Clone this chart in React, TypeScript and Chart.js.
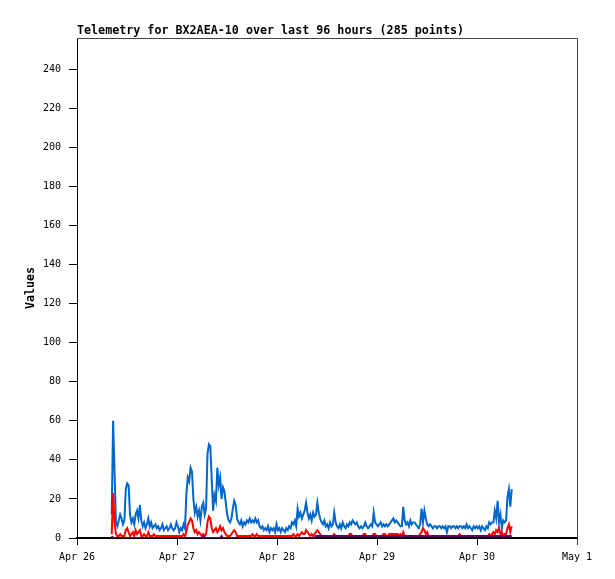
import React, { useEffect, useRef } from "react";
import { Chart, registerables } from "chart.js";

Chart.register(...registerables);

const TITLE = "Telemetry for BX2AEA-10 over last 96 hours (285 points)";
const Y_LABEL = "Values";
const X_TICK_HOURS = [0, 24, 48, 72, 96, 120];
const X_TICK_LABELS = ["Apr 26", "Apr 27", "Apr 28", "Apr 29", "Apr 30", "May 1"];
const Y_TICKS = [0, 20, 40, 60, 80, 100, 120, 140, 160, 180, 200, 220, 240];

// samples every ~20 min, first one at ~08:20 on Apr 26
const FIRST_SAMPLE_HOUR = 8.33;
const SAMPLE_INTERVAL = 96 / 284;

const BLUE = [
  12, 60, 34, 8, 6, 9, 12, 10, 7, 9,
  25, 28, 27, 12, 8, 10, 7, 12, 14, 10,
  17, 9, 6, 8, 5, 7, 10, 6, 8, 5,
  6, 7, 5, 6, 4, 5, 7, 4, 5, 6,
  4, 5, 7, 5, 4, 5, 8, 6, 3, 5,
  4, 7, 5, 22, 31, 29, 36, 34, 20, 13,
  16, 11, 14, 9, 16, 18, 12, 15, 43, 48,
  47, 30, 14, 22, 19, 36, 27, 31, 20, 26,
  24, 18, 12, 9, 8, 10, 15, 19, 17, 10,
  8, 7, 9, 6, 8, 7, 9, 8, 10, 8,
  9, 8, 10, 8, 9, 6, 5, 6, 4, 5,
  4, 6, 3, 5, 4, 5, 3, 7, 4, 5,
  3, 5, 4, 3, 5, 4, 6, 5, 8, 7,
  9, 6, 15, 11, 13, 10, 12, 14, 18, 13,
  10, 12, 9, 13, 11, 12, 18, 13, 10, 8,
  7, 9, 6, 7, 5, 8, 6, 7, 13, 8,
  6, 5, 7, 5, 8, 6, 5, 7, 6, 8,
  7, 9, 8, 7, 8, 6, 5, 6, 5, 6,
  8, 6, 5, 6, 7, 6, 13, 8, 7, 6,
  7, 8, 6, 7, 6, 7, 6, 7, 8, 9,
  10, 8, 9, 8, 7, 6, 6, 16, 9, 7,
  8, 6, 9, 7, 8, 8, 7, 6, 5, 7,
  15, 8, 14, 10, 7, 6, 7, 6, 5, 6,
  6, 5, 6, 6, 5, 6, 5, 6, 3, 6,
  6, 5, 6, 6, 5, 6, 5, 6, 6, 5,
  6, 5, 7, 5, 6, 5, 4, 6, 5, 6,
  5, 6, 4, 6, 5, 4, 6, 5, 8, 7,
  8, 8, 14, 10, 19, 8, 12, 5, 9, 8,
  9, 21, 25, 16, 25,
];

const RED = [
  2, 23, 8, 2, 1, 1, 2, 1, 1, 1,
  4, 5, 3, 1, 2, 3, 1, 4, 2, 3,
  4, 1, 1, 2, 1, 1, 3, 1, 1, 1,
  2, 1, 1, 1, 1, 1, 1, 1, 1, 1,
  1, 1, 1, 1, 1, 1, 1, 1, 1, 1,
  1, 2, 1, 3, 7, 8, 10, 9, 5, 3,
  4, 2, 3, 2, 1, 2, 1, 2, 8, 11,
  10, 5, 3, 4, 5, 3, 4, 6, 4, 5,
  3, 2, 1, 1, 1, 2, 3, 4, 3, 1,
  1, 1, 1, 1, 1, 1, 1, 1, 1, 1,
  2, 1, 1, 2, 1, 1, 1, 1, 1, 1,
  1, 1, 1, 1, 1, 1, 1, 1, 1, 1,
  1, 1, 1, 1, 1, 1, 1, 1, 1, 2,
  1, 1, 2, 1, 2, 3, 2, 2, 4, 3,
  2, 1, 2, 1, 2, 3, 4, 3, 2, 1,
  1, 1, 1, 1, 1, 1, 1, 1, 2, 1,
  1, 1, 1, 1, 1, 1, 1, 1, 1, 2,
  2, 1, 1, 1, 1, 1, 1, 1, 1, 2,
  2, 1, 1, 1, 1, 1, 2, 2, 1, 1,
  1, 1, 1, 2, 2, 1, 1, 2, 2, 2,
  2, 2, 2, 2, 1, 2, 1, 3, 1, 1,
  1, 1, 1, 1, 1, 1, 1, 1, 1, 2,
  3, 5, 4, 2, 3, 1, 1, 1, 1, 1,
  1, 1, 1, 1, 1, 1, 1, 1, 1, 1,
  1, 1, 1, 1, 1, 1, 1, 2, 1, 1,
  1, 1, 1, 1, 1, 1, 1, 1, 1, 1,
  1, 1, 1, 1, 1, 1, 1, 1, 2, 1,
  2, 3, 2, 4, 3, 5, 2, 3, 1, 2,
  2, 5, 7, 3, 6,
];

const PURPLE = [
  1, 0, 0, 0, 0, 0, 0, 0, 0, 0,
  0, 0, 0, 0, 0, 0, 0, 0, 0, 0,
  0, 0, 0, 0, 0, 0, 0, 0, 0, 0,
  0, 0, 0, 0, 0, 0, 0, 0, 0, 0,
  0, 0, 0, 0, 0, 0, 0, 0, 0, 0,
  0, 0, 0, 0, 0, 0, 0, 0, 0, 0,
  0, 0, 0, 0, 0, 1, 0, 0, 0, 0,
  0, 0, 0, 0, 0, 0, 0, 0, 1, 0,
  0, 0, 0, 0, 0, 0, 0, 0, 0, 0,
  0, 0, 0, 0, 0, 0, 0, 0, 0, 0,
  0, 0, 0, 0, 0, 0, 0, 0, 0, 0,
  0, 0, 0, 0, 0, 0, 0, 0, 0, 0,
  0, 0, 0, 0, 0, 0, 0, 0, 0, 0,
  0, 0, 0, 0, 0, 0, 0, 0, 0, 0,
  0, 0, 0, 0, 0, 1, 1, 1, 1, 1,
  1, 1, 1, 1, 1, 1, 1, 1, 1, 1,
  1, 1, 1, 1, 1, 1, 1, 1, 1, 1,
  1, 1, 1, 1, 1, 1, 1, 1, 1, 1,
  1, 1, 1, 1, 1, 1, 1, 1, 1, 1,
  1, 1, 1, 1, 1, 1, 1, 1, 1, 1,
  1, 1, 1, 1, 1, 1, 1, 1, 1, 1,
  1, 1, 1, 1, 1, 1, 1, 1, 1, 1,
  1, 1, 1, 1, 1, 1, 1, 1, 1, 1,
  1, 1, 1, 1, 1, 1, 1, 1, 1, 1,
  1, 1, 1, 1, 1, 1, 1, 1, 1, 1,
  1, 1, 1, 1, 1, 1, 1, 1, 1, 1,
  1, 1, 1, 1, 1, 1, 1, 1, 1, 1,
  1, 1, 1, 1, 1, 1, 1, 1, 1, 1,
  1, 1, 1, 1, 1,
];

const MONO = '"DejaVu Sans Mono", "Liberation Mono", monospace';

function toPoints(values: number[]) {
  return values.map((v, i) => ({ x: FIRST_SAMPLE_HOUR + i * SAMPLE_INTERVAL, y: v }));
}

// title above the plot + the grey top/right frame
const frameAndTitle = {
  id: "frameAndTitle",
  afterDraw(chart: Chart) {
    const { ctx, chartArea } = chart;
    const { left, top, right, bottom } = chartArea;
    ctx.save();
    ctx.strokeStyle = "#444";
    ctx.lineWidth = 1;
    ctx.beginPath();
    ctx.moveTo(left, top + 0.5);
    ctx.lineTo(right + 0.5, top + 0.5);
    ctx.lineTo(right + 0.5, bottom + 7);
    ctx.stroke();
    ctx.fillStyle = "#000";
    ctx.font = `bold 11.7px ${MONO}`;
    ctx.textAlign = "left";
    ctx.textBaseline = "alphabetic";
    ctx.fillText(TITLE, left, top - 4);
    ctx.restore();
  },
};

export default function App() {
  const canvasRef = useRef<HTMLCanvasElement>(null);

  useEffect(() => {
    document.body.style.margin = "0";
    if (!canvasRef.current) return;

    const chart = new Chart(canvasRef.current, {
      type: "line",
      data: {
        datasets: [
          {
            label: "blue",
            data: toPoints(BLUE),
            borderColor: "#0066cc",
            order: 3,
          },
          {
            label: "red",
            data: toPoints(RED),
            borderColor: "#ff0000",
            order: 2,
          },
          {
            label: "purple",
            data: toPoints(PURPLE),
            borderColor: "#660066",
            order: 1,
          },
        ] as any,
      },
      options: {
        animation: false,
        responsive: false,
        devicePixelRatio: 1,
        layout: { padding: { top: 38, right: 38, left: 0, bottom: 0 } },
        elements: {
          point: { radius: 0 },
          line: { borderWidth: 2, tension: 0, fill: false },
        },
        plugins: {
          legend: { display: false },
          tooltip: { enabled: false },
          title: { display: false },
        },
        scales: {
          x: {
            type: "linear",
            min: 0,
            max: 120,
            z: 1,
            afterBuildTicks: (s: any) => {
              s.ticks = X_TICK_HOURS.map((v) => ({ value: v }));
            },
            afterFit: (s: any) => {
              s.height = 41;
            },
            ticks: {
              autoSkip: false,
              maxRotation: 0,
              padding: 6,
              color: "#000",
              font: { family: MONO, size: 10 },
              callback: (_v: any, i: number) => X_TICK_LABELS[i],
            },
            grid: { drawOnChartArea: false, tickLength: 7, color: "#000" },
            border: { color: "#000", width: 2 },
          },
          y: {
            type: "linear",
            min: 0,
            max: 256,
            z: 1,
            afterBuildTicks: (s: any) => {
              s.ticks = Y_TICKS.map((v) => ({ value: v }));
            },
            afterFit: (s: any) => {
              s.width = 77;
            },
            ticks: {
              padding: 8,
              color: "#000",
              font: { family: MONO, size: 10 },
            },
            grid: { drawOnChartArea: false, tickLength: 8, color: "#000" },
            border: { color: "#000", width: 1 },
            title: {
              display: true,
              text: Y_LABEL,
              color: "#000",
              font: { family: MONO, size: 11.7, weight: "bold" },
              padding: { top: 24, bottom: 0 },
            },
          },
        },
      },
      plugins: [frameAndTitle],
    });

    return () => chart.destroy();
  }, []);

  return (
    <div style={{ width: 615, height: 579, background: "#fff" }}>
      <canvas ref={canvasRef} width={615} height={579} />
    </div>
  );
}
